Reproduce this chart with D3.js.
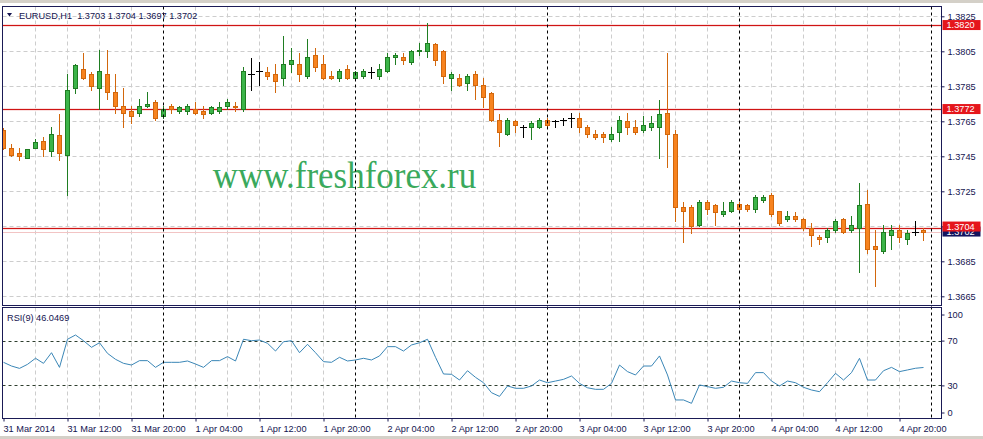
<!DOCTYPE html>
<html lang="en">
  <head>
    <meta charset="UTF-8" />
    <title>EURUSD,H1</title>
    <style>
      body {
        margin: 0;
        background: #fff;
      }
      svg {
        display: block;
        font-family: "Liberation Sans", Arial, sans-serif;
        font-size: 9.2px;
      }
    </style>
    <script src="https://d3js.org/d3.v7.min.js"></script>
  </head>
  <body>
    <div id="chart"></div>

    <script>
      // EURUSD H1, bars from 31 Mar 2014 04:00 to 4 Apr 2014 23:00
      const opens = [
        1.3760, 1.3750, 1.3747, 1.3744, 1.3750, 1.3754, 1.3748, 1.3757, 1.3746, 1.3784,
        1.3795, 1.3792, 1.3784, 1.3792, 1.3782, 1.3774, 1.3771, 1.3770, 1.3774, 1.3776,
        1.3768, 1.3774, 1.3771, 1.3771, 1.3772, 1.3771, 1.3770, 1.3771, 1.3774, 1.3774,
        1.3772, 1.3792, 1.3794, 1.3793, 1.3792, 1.3790, 1.3798, 1.3798, 1.3791, 1.3803,
        1.3798, 1.3791, 1.3790, 1.3795, 1.3790, 1.3791, 1.3793, 1.3791, 1.3794, 1.3802,
        1.3802, 1.3799, 1.3805, 1.3805, 1.3809, 1.3805, 1.3790, 1.3790, 1.3787, 1.3792,
        1.3786, 1.3781, 1.3766, 1.3758, 1.3765, 1.3762, 1.3762, 1.3762, 1.3766, 1.3765,
        1.3766, 1.3767, 1.3767, 1.3762, 1.3758, 1.3758, 1.3755, 1.3759, 1.3765, 1.3762,
        1.3760, 1.3762, 1.3762, 1.3770, 1.3758, 1.3716, 1.3716, 1.3706, 1.3719, 1.3717,
        1.3712, 1.3714, 1.3718, 1.3717, 1.3715, 1.3720, 1.3723, 1.3714, 1.3709, 1.3711,
        1.3709, 1.3704, 1.3699, 1.3699, 1.3703, 1.3709, 1.3703, 1.3704, 1.3718, 1.3694,
        1.3691, 1.3700, 1.3703, 1.3698, 1.3702, 1.3703,
      ];
      const highs = [
        1.3761, 1.3752, 1.3750, 1.3749, 1.3755, 1.3756, 1.3762, 1.3769, 1.3792, 1.3798,
        1.3804, 1.3793, 1.3806, 1.3806, 1.3792, 1.3784, 1.3774, 1.3778, 1.3782, 1.3777,
        1.3774, 1.3775, 1.3774, 1.3775, 1.3776, 1.3774, 1.3774, 1.3776, 1.3778, 1.3776,
        1.3796, 1.3801, 1.3799, 1.3796, 1.3798, 1.3814, 1.3807, 1.3804, 1.3812, 1.3807,
        1.3803, 1.3794, 1.3795, 1.3797, 1.3794, 1.3795, 1.3796, 1.3798, 1.3804, 1.3804,
        1.3804, 1.3806, 1.3810, 1.3821, 1.3810, 1.3806, 1.3793, 1.3792, 1.3792, 1.3794,
        1.3790, 1.3782, 1.3769, 1.3767, 1.3766, 1.3763, 1.3765, 1.3767, 1.3767, 1.3766,
        1.3767, 1.3770, 1.3770, 1.3763, 1.3760, 1.3759, 1.3762, 1.3768, 1.3770, 1.3766,
        1.3768, 1.3768, 1.3777, 1.3804, 1.3760, 1.3719, 1.3717, 1.3720, 1.3720, 1.3718,
        1.3719, 1.3720, 1.3719, 1.3718, 1.3723, 1.3723, 1.3724, 1.3714, 1.3714, 1.3713,
        1.3710, 1.3707, 1.3700, 1.3704, 1.3709, 1.3710, 1.3711, 1.3730, 1.3726, 1.3703,
        1.3706, 1.3706, 1.3706, 1.3703, 1.3708, 1.3704,
      ];
      const lows = [
        1.3749, 1.3745, 1.3743, 1.3744, 1.3750, 1.3745, 1.3745, 1.3743, 1.3723, 1.3781,
        1.3789, 1.3783, 1.3772, 1.3778, 1.3770, 1.3762, 1.3764, 1.3768, 1.3773, 1.3766,
        1.3767, 1.3770, 1.3770, 1.3769, 1.3769, 1.3767, 1.3769, 1.3770, 1.3772, 1.3771,
        1.3771, 1.3783, 1.3786, 1.3789, 1.3782, 1.3786, 1.3793, 1.3788, 1.3790, 1.3794,
        1.3789, 1.3789, 1.3788, 1.3789, 1.3789, 1.3790, 1.3790, 1.3789, 1.3793, 1.3798,
        1.3798, 1.3798, 1.3803, 1.3802, 1.3797, 1.3787, 1.3783, 1.3785, 1.3783, 1.3778,
        1.3773, 1.3765, 1.3751, 1.3757, 1.3759, 1.3756, 1.3755, 1.3761, 1.3762, 1.3762,
        1.3763, 1.3762, 1.3759, 1.3756, 1.3755, 1.3753, 1.3754, 1.3754, 1.3758, 1.3758,
        1.3759, 1.3760, 1.3744, 1.3739, 1.3708, 1.3696, 1.3701, 1.3705, 1.3712, 1.3706,
        1.3711, 1.3713, 1.3714, 1.3714, 1.3713, 1.3719, 1.3711, 1.3706, 1.3708, 1.3708,
        1.3703, 1.3694, 1.3695, 1.3696, 1.3702, 1.3701, 1.3702, 1.3679, 1.3690, 1.3671,
        1.3690, 1.3692, 1.3696, 1.3695, 1.3700, 1.3697,
      ];
      const closes = [
        1.3750, 1.3746, 1.3745, 1.3749, 1.3753, 1.3749, 1.3758, 1.3747, 1.3783, 1.3797,
        1.3790, 1.3785, 1.3794, 1.3782, 1.3774, 1.3770, 1.3768, 1.3774, 1.3775, 1.3767,
        1.3772, 1.3772, 1.3773, 1.3774, 1.3770, 1.3769, 1.3773, 1.3773, 1.3776, 1.3773,
        1.3794, 1.3792, 1.3794, 1.3791, 1.3788, 1.3798, 1.3800, 1.3792, 1.3802, 1.3796,
        1.3790, 1.3790, 1.3794, 1.3790, 1.3793, 1.3794, 1.3793, 1.3795, 1.3802, 1.3803,
        1.3800, 1.3805, 1.3806, 1.3810, 1.3800, 1.3791, 1.3792, 1.3786, 1.3791, 1.3786,
        1.3779, 1.3766, 1.3759, 1.3766, 1.3763, 1.3762, 1.3764, 1.3766, 1.3763, 1.3765,
        1.3766, 1.3767, 1.3762, 1.3758, 1.3756, 1.3756, 1.3758, 1.3766, 1.3762, 1.3759,
        1.3763, 1.3764, 1.3769, 1.3758, 1.3716, 1.3714, 1.3705, 1.3719, 1.3715, 1.3713,
        1.3714, 1.3719, 1.3715, 1.3715, 1.3722, 1.3722, 1.3712, 1.3707, 1.3711, 1.3709,
        1.3704, 1.3700, 1.3698, 1.3703, 1.3708, 1.3702, 1.3706, 1.3717, 1.3692, 1.3692,
        1.3702, 1.3703, 1.3699, 1.3701, 1.3702, 1.3702,
      ];
      const rsi = [
        50.6, 47.3, 45.2, 48.8, 54.2, 49.7, 59.2, 46.1, 71.2, 75.0,
        69.9, 64.0, 68.1, 58.6, 53.3, 49.7, 48.2, 52.1, 52.1, 46.1,
        50.6, 50.6, 50.6, 51.8, 49.1, 46.1, 52.1, 52.1, 55.7, 51.8,
        71.2, 69.9, 70.5, 67.6, 60.7, 69.0, 69.9, 59.2, 66.7, 59.2,
        51.2, 50.6, 55.1, 51.8, 52.7, 54.2, 52.7, 56.3, 64.6, 64.6,
        60.7, 66.1, 68.1, 71.2, 55.1, 40.2, 39.9, 34.8, 43.1, 37.2,
        32.4, 23.5, 20.2, 29.5, 27.4, 27.4, 29.5, 34.8, 32.4, 33.9,
        35.4, 38.4, 31.8, 27.9, 26.5, 26.5, 31.8, 48.2, 42.3, 39.3,
        47.3, 47.3, 56.3, 39.3, 17.0, 17.0, 14.0, 30.4, 28.9, 27.4,
        28.3, 33.9, 32.4, 31.8, 41.4, 41.4, 33.9, 29.5, 33.9, 32.4,
        28.3, 25.9, 24.4, 32.4, 40.8, 34.8, 41.4, 54.2, 34.8, 34.8,
        43.1, 46.1, 42.3, 43.8, 45.3, 46.0,
      ];

      const timeLabels = [
        "31 Mar 2014", "31 Mar 12:00", "31 Mar 20:00", "1 Apr 04:00", "1 Apr 12:00",
        "1 Apr 20:00", "2 Apr 04:00", "2 Apr 12:00", "2 Apr 20:00", "3 Apr 04:00",
        "3 Apr 12:00", "3 Apr 20:00", "4 Apr 04:00", "4 Apr 12:00", "4 Apr 20:00",
      ];
      const labelBars = [0, 8, 16, 24, 32, 40, 48, 56, 64, 72, 80, 88, 96, 104, 112];
      const daySeparators = [20, 44, 68, 92, 116];
      const priceTicks = [1.3825, 1.3805, 1.3785, 1.3765, 1.3745, 1.3725, 1.3705, 1.3685, 1.3665];
      const rsiTicks = [100, 70, 30, 0];
      const rsiLevels = [70, 30];
      const levelLines = [1.3820, 1.3772, 1.3704];
      const bidPrice = 1.3702;
      const title = "EURUSD,H1  1.3703 1.3704 1.3697 1.3702";
      const rsiTitle = "RSI(9) 46.0469";

      const width = 983;
      const height = 439;
      const main = { left: 2.5, right: 941.5, top: 6.5, bottom: 305.5 };
      const sub = { top: 307.5, bottom: 418.5 };
      const textColor = "#141450";
      const frameColor = "#1a1a55";

      const bars = opens.map((o, i) => ({
        i: i,
        o: o,
        h: highs[i],
        l: lows[i],
        c: closes[i],
      }));

      const svg = d3
        .select("#chart")
        .append("svg")
        .attr("width", width)
        .attr("height", height);

      const x = d3.scaleLinear().domain([0, 116]).range([3, 931]);
      const y = d3.scaleLinear().domain([1.3825, 1.3665]).range([16.3, 296.3]);
      const yr = d3.scaleLinear().domain([0, 100]).range([419, 307]);

      // window frame bits
      svg.append("rect").attr("x", 0).attr("y", 0).attr("width", width).attr("height", 3).attr("fill", "#d4d0c8");
      svg.append("rect").attr("x", 0).attr("y", 436).attr("width", width).attr("height", 3).attr("fill", "#d4d0c8");

      const defs = svg.append("defs");
      defs
        .append("clipPath")
        .attr("id", "clipMain")
        .append("rect")
        .attr("x", main.left)
        .attr("y", main.top)
        .attr("width", main.right - main.left)
        .attr("height", main.bottom - main.top);
      defs
        .append("clipPath")
        .attr("id", "clipSub")
        .append("rect")
        .attr("x", main.left)
        .attr("y", sub.top)
        .attr("width", main.right - main.left)
        .attr("height", sub.bottom - sub.top);

      const gMain = svg.append("g").attr("clip-path", "url(#clipMain)");
      const gSub = svg.append("g").attr("clip-path", "url(#clipSub)");

      // grid
      const gridBars = d3.range(4, 116, 4).filter((b) => !daySeparators.includes(b));
      [
        [gMain, main.top, main.bottom],
        [gSub, sub.top, sub.bottom],
      ].forEach(([g, t, b]) => {
        g.selectAll(".vgrid")
          .data(gridBars)
          .enter()
          .append("line")
          .attr("x1", (d) => x(d) + 0.5)
          .attr("x2", (d) => x(d) + 0.5)
          .attr("y1", t)
          .attr("y2", b)
          .attr("stroke", "#cdcdcd")
          .attr("stroke-dasharray", "4,3");
      });

      gMain
        .selectAll(".hgrid")
        .data(priceTicks)
        .enter()
        .append("line")
        .attr("x1", main.left)
        .attr("x2", main.right)
        .attr("y1", (d) => Math.round(y(d)) + 0.5)
        .attr("y2", (d) => Math.round(y(d)) + 0.5)
        .attr("stroke", "#cdcdcd")
        .attr("stroke-dasharray", "4,3");

      // watermark
      gMain
        .append("text")
        .attr("x", 212.7)
        .attr("y", 188.3)
        .attr("textLength", 263.5)
        .attr("lengthAdjust", "spacingAndGlyphs")
        .style("font-family", '"Liberation Serif", "Times New Roman", serif')
        .style("font-size", "38px")
        .attr("fill", "#3aa95c")
        .text("www.freshforex.ru");

      // day separators
      svg
        .selectAll(".daysep")
        .data(daySeparators)
        .enter()
        .append("line")
        .attr("x1", (d) => x(d) + 0.5)
        .attr("x2", (d) => x(d) + 0.5)
        .attr("y1", main.top)
        .attr("y2", sub.bottom)
        .attr("stroke", "#000")
        .attr("stroke-dasharray", "3,3");

      // horizontal price levels and bid line
      gMain
        .append("line")
        .attr("x1", main.left)
        .attr("x2", main.right)
        .attr("y1", Math.round(y(bidPrice)) + 0.5)
        .attr("y2", Math.round(y(bidPrice)) + 0.5)
        .attr("stroke", "#f2c4c4");

      const levels = gMain
        .selectAll(".level")
        .data(levelLines)
        .enter()
        .append("g")
        .attr("class", "level")
        .attr("transform", (d) => `translate(0,${Math.round(y(d)) + 0.5})`);
      levels
        .append("line")
        .attr("x1", main.left)
        .attr("x2", main.right)
        .attr("stroke", "#fae0e0")
        .attr("stroke-width", 3);
      levels
        .append("line")
        .attr("x1", main.left)
        .attr("x2", main.right)
        .attr("stroke", "#cf1414")
        .attr("stroke-width", 1);

      // candles
      const up = { fill: "#3cb449", stroke: "#1f7d22" };
      const down = { fill: "#f7831f", stroke: "#d2670c" };
      const colorOf = (d) => (d.c > d.o ? up : down);

      const candle = gMain
        .selectAll(".candle")
        .data(bars)
        .enter()
        .append("g")
        .attr("class", "candle")
        .style("shape-rendering", "crispEdges");

      candle
        .append("line")
        .attr("x1", (d) => x(d.i) + 0.5)
        .attr("x2", (d) => x(d.i) + 0.5)
        .attr("y1", (d) => Math.round(y(d.h)))
        .attr("y2", (d) => Math.round(y(d.l)) + 1)
        .attr("stroke", (d) => (d.o === d.c ? "#000" : colorOf(d).stroke));

      candle
        .filter((d) => d.o !== d.c)
        .append("rect")
        .attr("x", (d) => x(d.i) - 1.5)
        .attr("y", (d) => Math.round(y(Math.max(d.o, d.c))) + 0.5)
        .attr("width", 4)
        .attr("height", (d) =>
          Math.max(1, Math.round(y(Math.min(d.o, d.c))) - Math.round(y(Math.max(d.o, d.c))))
        )
        .attr("fill", (d) => colorOf(d).fill)
        .attr("stroke", (d) => colorOf(d).stroke);

      candle
        .filter((d) => d.o === d.c)
        .append("line")
        .attr("x1", (d) => x(d.i) - 3)
        .attr("x2", (d) => x(d.i) + 4)
        .attr("y1", (d) => Math.round(y(d.o)) + 0.5)
        .attr("y2", (d) => Math.round(y(d.o)) + 0.5)
        .attr("stroke", "#000");

      // RSI
      gSub
        .selectAll(".rsilevel")
        .data(rsiLevels)
        .enter()
        .append("line")
        .attr("x1", main.left)
        .attr("x2", main.right)
        .attr("y1", (d) => Math.round(yr(d)) + 0.5)
        .attr("y2", (d) => Math.round(yr(d)) + 0.5)
        .attr("stroke", "#2e3e2e")
        .attr("stroke-dasharray", "3,3");

      gSub
        .append("path")
        .datum(rsi)
        .attr("fill", "none")
        .attr("stroke", "#3a86b6")
        .attr("stroke-width", 1)
        .attr("d", d3.line().x((d, i) => x(i) + 0.5).y((d) => yr(d)));

      // panel frames
      [
        [main.top, main.bottom],
        [sub.top, sub.bottom],
      ].forEach(([t, b]) => {
        svg
          .append("rect")
          .attr("x", main.left)
          .attr("y", t)
          .attr("width", main.right - main.left)
          .attr("height", b - t)
          .attr("fill", "none")
          .attr("stroke", frameColor);
      });

      // price axis
      const priceAxis = svg
        .append("g")
        .attr("transform", `translate(${main.right},0)`)
        .call(d3.axisRight(y).tickValues(priceTicks).tickSize(3).tickPadding(3).tickFormat(d3.format(".4f")));
      priceAxis.select(".domain").remove();
      priceAxis.selectAll("line").attr("stroke", frameColor);
      priceAxis.selectAll("text").attr("fill", textColor).style("font-size", "9.2px").style("font-family", null);

      const rsiAxis = svg
        .append("g")
        .attr("transform", `translate(${main.right},0)`)
        .call(d3.axisRight(yr).tickValues(rsiTicks).tickSize(3).tickPadding(3));
      rsiAxis.select(".domain").remove();
      rsiAxis.selectAll("line").attr("stroke", frameColor);
      rsiAxis.selectAll("text").attr("fill", textColor).style("font-size", "9.2px").style("font-family", null);
      rsiAxis
        .selectAll(".tick")
        .filter((d) => d === 100)
        .attr("transform", `translate(0,${yr(100) + 8})`);
      rsiAxis
        .selectAll(".tick")
        .filter((d) => d === 0)
        .attr("transform", `translate(0,${yr(0) - 6})`);

      // level price tags (the bid tag sits mostly under the 1.3704 tag)
      const tagW = 38;
      const tagH = 10;
      svg
        .append("rect")
        .attr("x", main.right + 1)
        .attr("y", y(bidPrice) - tagH / 2)
        .attr("width", tagW)
        .attr("height", tagH)
        .attr("fill", "#14145e");
      svg
        .append("text")
        .attr("x", main.right + 5)
        .attr("y", y(bidPrice) + 3.3)
        .attr("fill", "#fff")
        .text(d3.format(".4f")(bidPrice));

      const tags = svg
        .selectAll(".tag")
        .data(levelLines)
        .enter()
        .append("g")
        .attr("transform", (d) => `translate(${main.right + 1},${y(d) - (d === 1.3704 ? 1.5 : 0)})`);
      tags
        .append("rect")
        .attr("y", -tagH / 2)
        .attr("width", tagW)
        .attr("height", tagH)
        .attr("fill", "#e5161c");
      tags
        .append("text")
        .attr("x", 4)
        .attr("y", 3.3)
        .attr("fill", "#fff")
        .text((d) => d3.format(".4f")(d));

      // time axis
      const timeAxis = svg
        .append("g")
        .attr("transform", `translate(0.5,${sub.bottom})`)
        .call(
          d3
            .axisBottom(x)
            .tickValues(labelBars)
            .tickSize(3)
            .tickPadding(4)
            .tickFormat((d, i) => timeLabels[i])
        );
      timeAxis.select(".domain").remove();
      timeAxis.selectAll("line").attr("stroke", frameColor);
      timeAxis
        .selectAll("text")
        .attr("text-anchor", "start")
        .attr("x", -0.5)
        .attr("fill", textColor)
        .style("font-size", "9.2px")
        .style("font-family", null);

      // titles
      svg
        .append("path")
        .attr("d", "M7,13 L12,13 L9.5,16.5 Z")
        .attr("fill", textColor);
      svg
        .append("text")
        .attr("x", 19)
        .attr("y", 19)
        .attr("fill", textColor)
        .attr("xml:space", "preserve")
        .style("white-space", "pre")
        .text(title);
      svg
        .append("text")
        .attr("x", 7)
        .attr("y", 320.5)
        .attr("fill", textColor)
        .text(rsiTitle);
    </script>
  </body>
</html>
